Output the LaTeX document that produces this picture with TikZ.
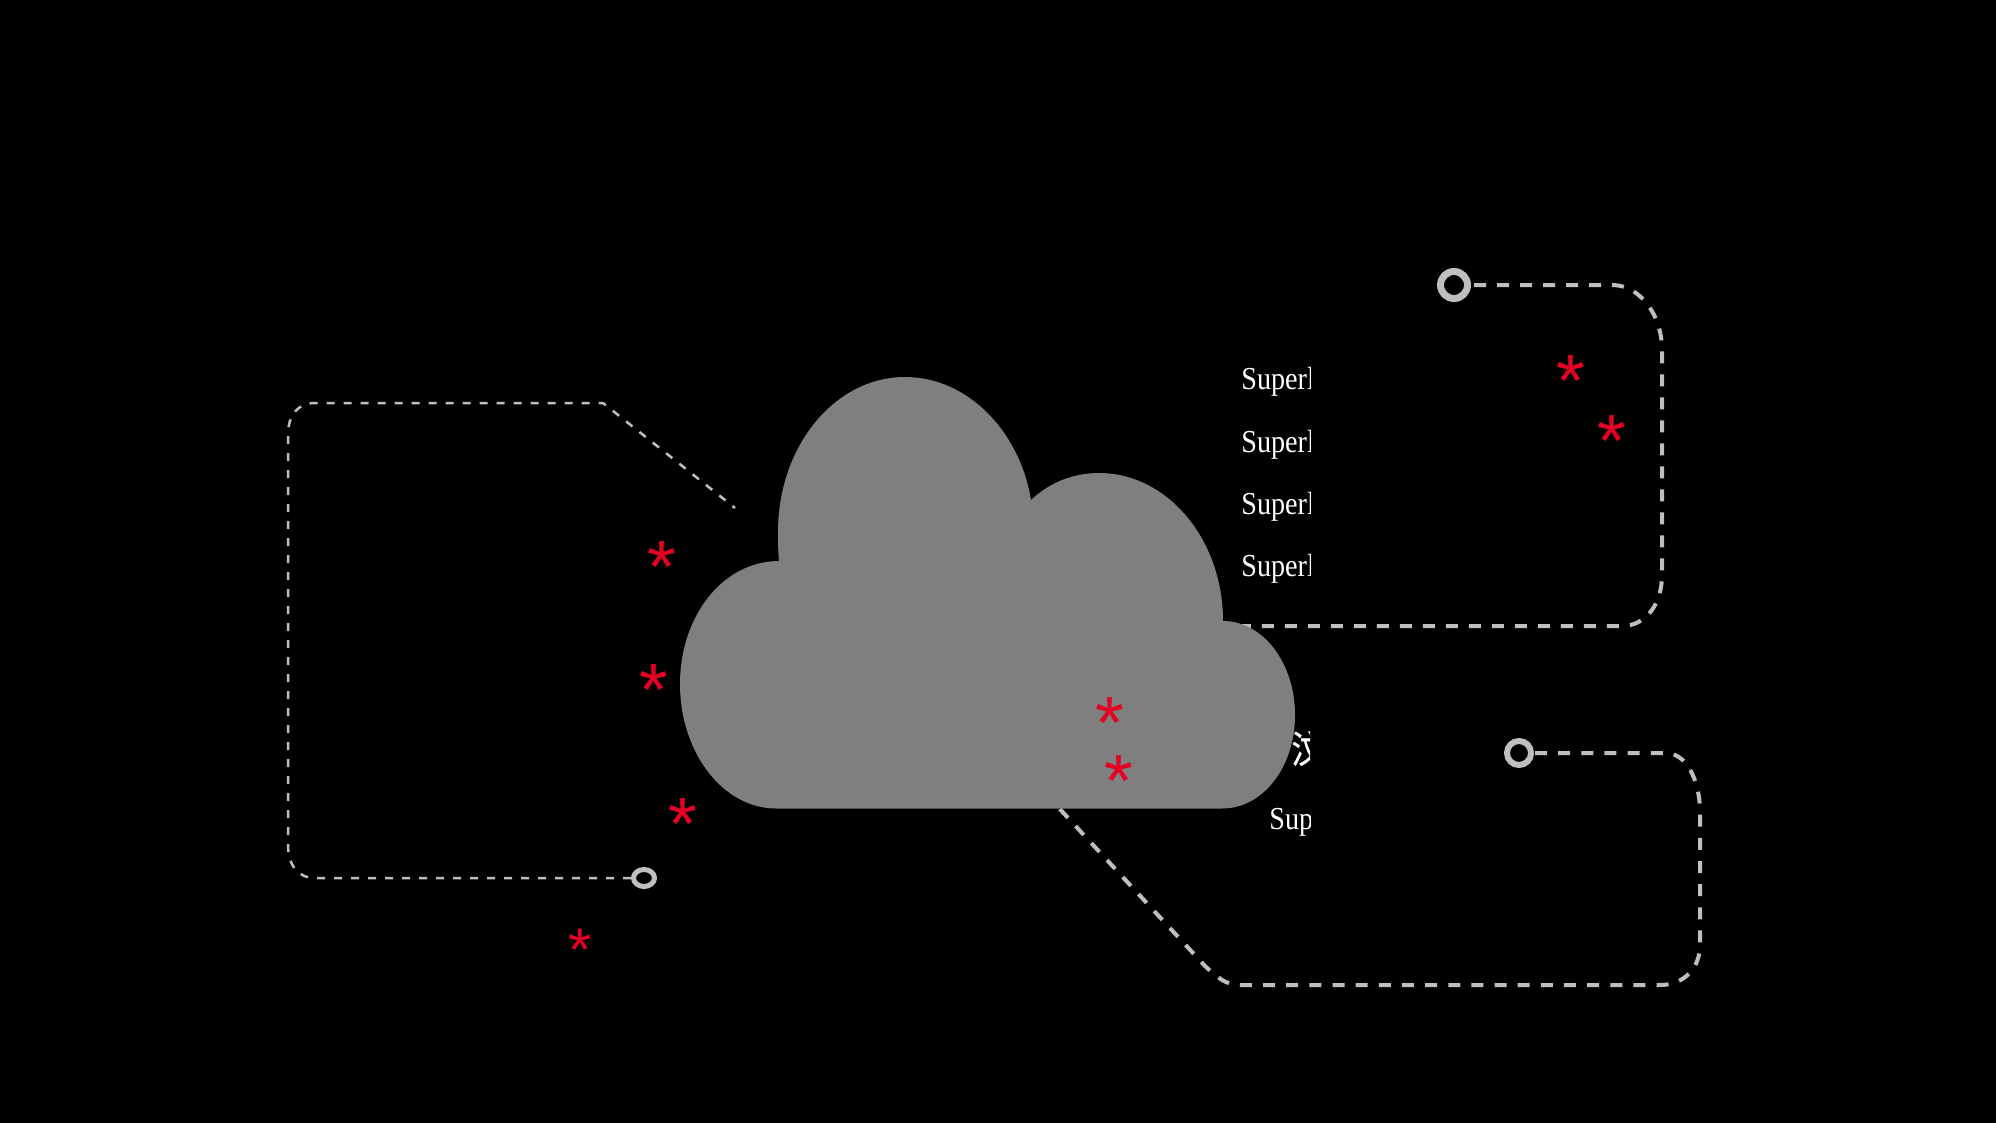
\documentclass[tikz,border=0pt]{standalone}
\usepackage{fontspec}
\setmainfont{Liberation Serif}
\newfontfamily\narrowserif[FakeStretch=0.88]{Liberation Serif}
\newfontfamily\sansstar{Liberation Sans}
\newfontfamily\cjkfont[FakeStretch=0.85,FakeBold=0.6]{Noto Sans CJK SC}
\definecolor{dashgrey}{HTML}{BFBFBF}
\definecolor{cloudgrey}{HTML}{7F7F7F}
\definecolor{starred}{HTML}{E60023}
\tikzset{
  wide dash/.style={draw=dashgrey,line width=2pt,dash pattern=on 6pt off 5.5pt},
  wide dash long/.style={draw=dashgrey,line width=2pt,dash pattern=on 6pt off 5.573pt},
  thin dash/.style={draw=dashgrey,line width=1.25pt,dash pattern=on 4pt off 4.5pt},
  ringa/.style={circle,draw=dashgrey,line width=3.5pt,minimum size=13.5pt,inner sep=0pt},
  ringb/.style={circle,draw=dashgrey,line width=3pt,minimum size=12pt,inner sep=0pt},
  ringc/.style={ellipse,draw=dashgrey,line width=2.5pt,minimum width=10.5pt,minimum height=8.5pt,inner sep=0pt},
  label text/.style={text=white,anchor=base west,inner sep=0pt,font=\narrowserif\fontsize{16}{16}\selectfont},
  bigstar/.style={text=starred,anchor=base,inner sep=0pt,yshift=-19.5pt,font=\sansstar\fontsize{37}{37}\selectfont},
  smallstar/.style={text=starred,anchor=base,inner sep=0pt,yshift=-15.4pt,font=\sansstar\fontsize{30}{30}\selectfont},
}
\usetikzlibrary{shapes.geometric}
\begin{document}
\begin{tikzpicture}[x=0.5pt,y=-0.5pt]
\useasboundingbox (0,0) rectangle (1996,1123);
\fill[black] (0,0) rectangle (1996,1123);
% rings
\node[ringa] (r1) at (1454,285) {};
\node[ringb] (r2) at (1519,753) {};
\node[ringc] (r3) at (644,878) {};
\coordinate (e1) at (1228,626);
\coordinate (e2) at (1057,806);
\coordinate (e3) at (735,508);
% dashed connectors
\draw[wide dash] (r1.east) ++(3,0) -- (1612,285) .. controls (1640,285) and (1662,315) .. (1662,350)
  -- (1662,575) .. controls (1662,605) and (1645,626) .. (1622,626) -- (e1);
\draw[wide dash long] (r2.east) ++(1,0) -- (1666,753) .. controls (1686,753) and (1700,780) .. (1700,812)
  -- (1700,945) .. controls (1700,968) and (1684,985) .. (1660,985) -- (1240,985)
  .. controls (1226,985) and (1218,978) .. (1205,966) -- (e2);
\draw[thin dash] (r3.west) -- (315,878) .. controls (298,878) and (288,865) .. (288,845)
  -- (288,435) .. controls (288,415) and (298,403) .. (315,403) -- (603,403) -- (e3);
% cloud
\fill[cloudgrey] (776,808.5)
  .. controls (723,808.5) and (680,752.5) .. (680,684)
  .. controls (680,616) and (723,561) .. (779,561)
  .. controls (778,550) and (778,540) .. (778,532)
  .. controls (778,446) and (835,377) .. (905,377)
  .. controls (968,377) and (1020,432) .. (1031,500)
  .. controls (1050,482) and (1074,473) .. (1099,473)
  .. controls (1167,473) and (1223,539) .. (1223,621)
  .. controls (1263,621) and (1295,663) .. (1295,715)
  .. controls (1295,767) and (1263,808.5) .. (1222,808.5) -- cycle;
% clipped labels
\begin{scope}
\clip (1200,340) rectangle (1310,860);
\node[label text] (t1) at (1241,389) {Superl};
\node[label text] (t2) at (1241,452) {Superl};
\node[label text] (t3) at (1241,514) {Superl};
\node[label text] (t4) at (1241,576) {Superl};
\node[label text] (t5) at (1269,829) {Sup};
\node[label text,font=\cjkfont\fontsize{19}{19}\selectfont] (t6) at (1291,763) {汶};
\end{scope}
% asterisks
\node[bigstar] (s1) at (1571,367) {*};
\node[bigstar] (s2) at (1612,427) {*};
\node[bigstar] (s3) at (662,553) {*};
\node[bigstar] (s4) at (654,676) {*};
\node[bigstar] (s5) at (683,810) {*};
\node[smallstar] (s6) at (580,940) {*};
\node[bigstar] (s7) at (1110,709) {*};
\node[bigstar] (s8) at (1119,767) {*};
\end{tikzpicture}
\end{document}
